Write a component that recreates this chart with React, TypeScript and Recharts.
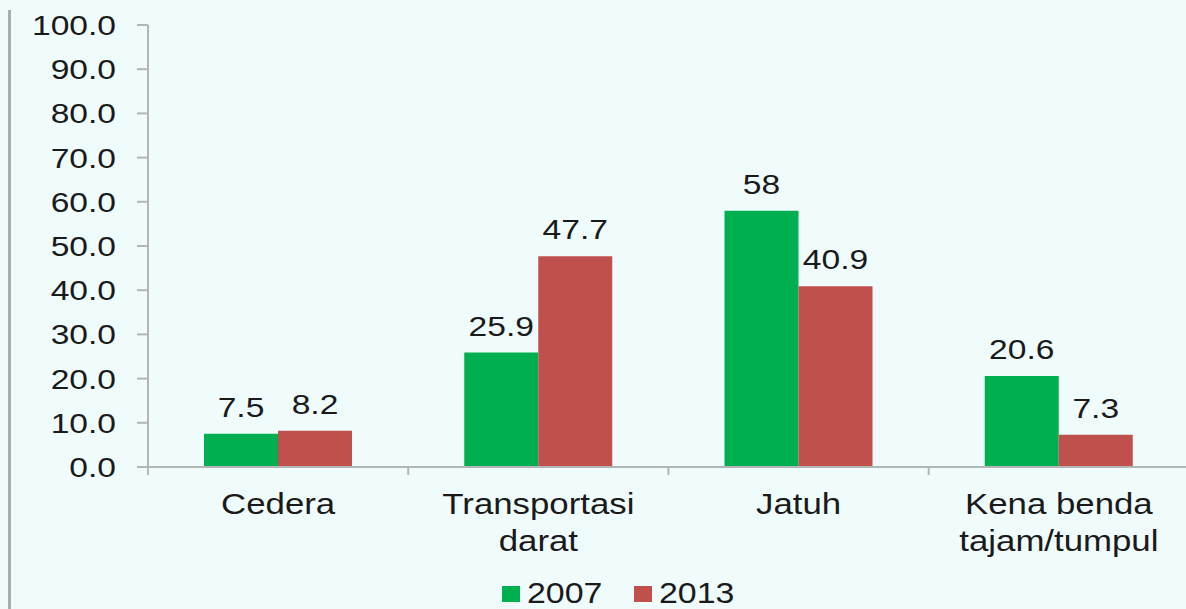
import { BarChart, Bar, XAxis, YAxis, LabelList, Legend } from 'recharts';

const categories = ['Cedera', 'Transportasi\ndarat', 'Jatuh', 'Kena benda\ntajam/tumpul'];
const values2007 = [7.5, 25.9, 58, 20.6];
const values2013 = [8.2, 47.7, 40.9, 7.3];
const yTicks = [0, 10, 20, 30, 40, 50, 60, 70, 80, 90, 100];
const seriesNames = ['2007', '2013'];

const GREEN = '#00b050';
const RED = '#c0504d';
const AXIS = '#b2b6b7';
const TEXT = '#1a1a1a';
const FONT = '"Liberation Sans", Arial, sans-serif';
const SX = 1.2; // the source picture is stretched sideways

const data = categories.map((name, i) => ({
  name,
  y2007: values2007[i],
  y2013: values2013[i],
}));

const YTick = (props: any) => {
  const { x, y, payload } = props;
  return (
    <text
      transform={`translate(${x},${y}) scale(${SX},1)`}
      textAnchor="end"
      dy="0.36em"
      fontSize={28}
      fontFamily={FONT}
      fill={TEXT}
    >
      {Number(payload.value).toFixed(1)}
    </text>
  );
};

const XTick = (props: any) => {
  const { x, y, payload } = props;
  const lines = String(payload.value).split('\n');
  const half = 130.2;
  return (
    <g>
      <line x1={x - half} x2={x - half} y1={y} y2={y + 8} stroke={AXIS} strokeWidth={2} />
      {lines.map((ln, i) => (
        <text
          key={i}
          transform={`translate(${x},${y + 47 + i * 37}) scale(${SX},1)`}
          textAnchor="middle"
          fontSize={29}
          fontFamily={FONT}
          fill={TEXT}
        >
          {ln}
        </text>
      ))}
    </g>
  );
};

const BarLabel = (props: any) => {
  const { x, y, width, value } = props;
  return (
    <text
      transform={`translate(${x + width / 2},${y - 17}) scale(${SX},1)`}
      textAnchor="middle"
      fontSize={28}
      fontFamily={FONT}
      fill={TEXT}
    >
      {value}
    </text>
  );
};

const LegendBox = () => (
  <svg width={1186} height={40}>
    {[GREEN, RED].map((c, i) => (
      <g key={i}>
        <rect x={502 + i * 132} y={12} width={18} height={16} fill={c} />
        <text
          transform={`translate(${527 + i * 132},29) scale(1.13,1)`}
          fontSize={30}
          fontFamily={FONT}
          fill={TEXT}
        >
          {seriesNames[i]}
        </text>
      </g>
    ))}
  </svg>
);

export default function App() {
  return (
    <div
      style={{
        position: 'absolute',
        left: 0,
        top: 0,
        width: 1186,
        height: 609,
        overflow: 'hidden',
        background: '#f0fbfc',
      }}
    >
      <div style={{ position: 'absolute', left: 8, top: 10, width: 3, height: 599, background: '#a9adae' }} />
      <BarChart
        width={1189}
        height={609}
        data={data}
        margin={{ top: 25, right: 0, bottom: 0, left: 0 }}
        barGap={0}
        barCategoryGap={0}
      >
        <YAxis
          width={148}
          domain={[0, 100]}
          ticks={yTicks}
          interval={0}
          tickSize={11}
          tickMargin={21}
          tick={<YTick />}
          axisLine={{ stroke: AXIS, strokeWidth: 2 }}
          tickLine={{ stroke: AXIS, strokeWidth: 2 }}
        />
        <XAxis
          dataKey="name"
          height={142}
          interval={0}
          tickSize={0}
          tickMargin={0}
          tick={<XTick />}
          tickLine={false}
          axisLine={{ stroke: AXIS, strokeWidth: 2 }}
        />
        <Legend
          layout="horizontal"
          verticalAlign="middle"
          align="center"
          wrapperStyle={{ position: 'absolute', left: 0, top: 574, width: 1186, height: 40 }}
          content={<LegendBox />}
        />
        <Bar dataKey="y2007" name={seriesNames[0]} fill={GREEN} barSize={74} isAnimationActive={false}>
          <LabelList dataKey="y2007" content={<BarLabel />} />
        </Bar>
        <Bar dataKey="y2013" name={seriesNames[1]} fill={RED} barSize={74} isAnimationActive={false}>
          <LabelList dataKey="y2013" content={<BarLabel />} />
        </Bar>
      </BarChart>
    </div>
  );
}
